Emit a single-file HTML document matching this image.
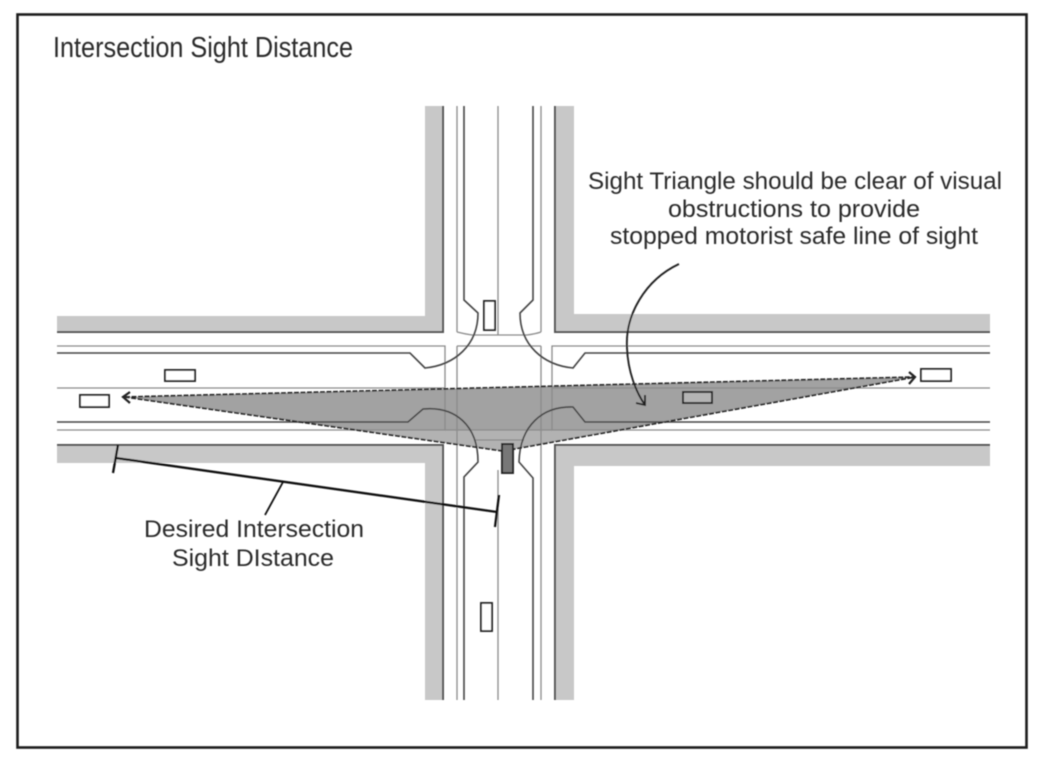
<!DOCTYPE html>
<html><head><meta charset="utf-8"><style>
html,body{margin:0;padding:0;background:#fff}
svg{display:block}
text{font-family:"Liberation Sans",sans-serif;fill:#2a2a2a}
</style></head><body>
<svg width="1045" height="770" viewBox="0 0 1045 770" xmlns="http://www.w3.org/2000/svg">
<defs><filter id="b" x="-2%" y="-2%" width="104%" height="104%"><feGaussianBlur stdDeviation="0.5"/></filter></defs>
<rect width="1045" height="770" fill="#fff"/>
<g filter="url(#b)">
<rect x="17.5" y="14.5" width="1009" height="733" fill="none" stroke="#1c1c1c" stroke-width="2.6"/>

<!-- sidewalks -->
<g fill="#c8c8c8">
<path d="M57 316H425V106H443V332H57Z"/>
<path d="M555 106H574V314H990V332H555Z"/>
<path d="M57 445H443V700H425V463H57Z"/>
<path d="M555 445H990V466H574V700H555Z"/>
</g>
<g fill="none" stroke="#555" stroke-width="2">
<path d="M57 332H443V106"/>
<path d="M555 106V332H990"/>
<path d="M57 445H443V700"/>
<path d="M555 700V445H990"/>
</g>

<!-- triangle -->
<path d="M125 397L915 377L503 451Z" fill="#a2a2a2"/>
<path d="M356 430L503 451L620 430Z" fill="#b2b2b2"/>

<!-- road lines -->
<g fill="none" stroke="#8a8a8a" stroke-width="1.3">
<path d="M57 346H445V430H57"/>
<path d="M990 346H552V430H990"/>
<path d="M457 106V332M457 346V700"/>
<path d="M541 106V332M541 346V700"/>
<path d="M457 346H541M457 332Q465 334 472 335H527Q535 334 541 332"/>
<path d="M57 388H445M552 388H990"/>
<path d="M498 106V335M498 470V700"/>
<path d="M445 430H552M474 440H524"/>
</g>
<g fill="none" stroke="#444" stroke-width="1.6">
<path d="M57 353H410L425 368C455 365 478 345 478 313L464 300V106"/>
<path d="M990 353H585L573 368C543 365 520 345 520 313L533 300V106"/>
<path d="M57 422H408L423 409C455 406 478 425 478 462L464 477V700"/>
<path d="M990 422H585L573 407C543 406 520 425 519 462L533 478V700"/>
</g>

<!-- triangle outline -->
<g fill="none" stroke="#222" stroke-width="1.7" stroke-dasharray="5 1.5">
<path d="M125 397L915 377L503 451Z"/>
</g>
<g fill="none" stroke="#222" stroke-width="2.2">
<path d="M130 392L123 397L130 403"/>
<path d="M909 372L915 377L909 384"/>
</g>

<!-- cars -->
<g fill="#fff" stroke="#222" stroke-width="1.9">
<rect x="484" y="301" width="11" height="29"/>
<rect x="165" y="370" width="30" height="11"/>
<rect x="80" y="395" width="29" height="12"/>
<rect x="921" y="369" width="30" height="12"/>
<rect x="683" y="392" width="29" height="11" fill="#b4b4b4"/>
<rect x="481" y="603" width="11" height="28"/>
<rect x="502" y="444" width="11" height="29" fill="#777"/>
</g>

<!-- dimension -->
<g fill="none" stroke="#111" stroke-width="2.3">
<path d="M116 458L497 512"/>
<path d="M118 445L113 473"/>
<path d="M499 495L495 527"/>
<path d="M283 482L265 515" stroke-width="1.8"/>
</g>
<!-- leader -->
<g fill="none" stroke="#222" stroke-width="1.9">
<path d="M679 264C645 280 625 315 627 348C628 372 636 392 645 405"/>
<path d="M636 403L645 405L645 395"/>
</g>

<!-- text -->
<text x="53" y="57" font-size="29" textLength="300" lengthAdjust="spacingAndGlyphs">Intersection Sight Distance</text>
<text x="588" y="189" font-size="24" textLength="414" lengthAdjust="spacingAndGlyphs">Sight Triangle should be clear of visual</text>
<text x="668" y="217" font-size="24" textLength="252" lengthAdjust="spacingAndGlyphs">obstructions to provide</text>
<text x="610" y="244" font-size="24" textLength="368" lengthAdjust="spacingAndGlyphs">stopped motorist safe line of sight</text>
<text x="144" y="537" font-size="24" textLength="220" lengthAdjust="spacingAndGlyphs">Desired Intersection</text>
<text x="172" y="566" font-size="24" textLength="162" lengthAdjust="spacingAndGlyphs">Sight DIstance</text>
</g>
</svg>
</body></html>
